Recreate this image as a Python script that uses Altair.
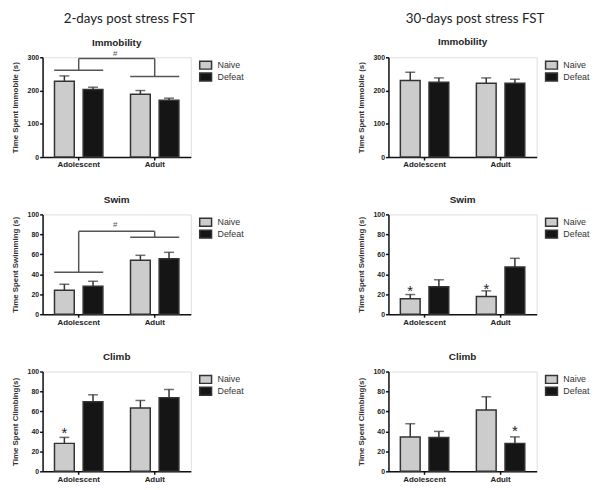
import altair as alt
import pandas as pd

groups = ["Adolescent", "Adult"]
conds = ["Naive", "Defeat"]

# order: Adolescent-Naive, Adolescent-Defeat, Adult-Naive, Adult-Defeat
imm2_mean = [228, 203, 189, 171]
imm2_err = [16, 7, 11, 6]
imm30_mean = [230, 225, 222, 222]
imm30_err = [25, 13, 16, 12]
swim2_mean = [24, 28, 54, 55.5]
swim2_err = [6, 5, 5, 6.5]
swim30_mean = [15.5, 27.6, 17.8, 47.4]
swim30_err = [4.2, 6.9, 5.6, 8.6]
climb2_mean = [28, 69.7, 63.5, 73.7]
climb2_err = [6, 7, 7.5, 8.3]
climb30_mean = [34.5, 33.9, 61.5, 28]
climb30_err = [13.2, 6.1, 13.2, 6.5]

# brackets: [left line, right line, top] and '#' label height
imm2_bracket = [261, 242, 296]
imm2_hash = 311
swim2_bracket = [42, 77, 83]
swim2_hash = 89

# asterisks: (group, condition, y)
swim30_stars = [("Adolescent", "Naive", 25.0), ("Adult", "Naive", 27.5)]
climb2_stars = [("Adolescent", "Naive", 40.5)]
climb30_stars = [("Adult", "Defeat", 42.0)]

FONT = "Liberation Sans"
LINE = "#333333"


def make_df(means, errs):
    rows = []
    i = 0
    for g in groups:
        for c in conds:
            rows.append({"group": g, "cond": c, "mean": means[i], "top": means[i] + errs[i]})
            i += 1
    return pd.DataFrame(rows)


def panel(title, ytitle, means, errs, ymax, step, bracket=None, hashy=None, stars=None,
          toff=6):
    df = make_df(means, errs)
    xaxis = alt.Axis(labelAngle=0, labelFont=FONT, labelFontWeight="bold",
                     labelFontSize=8, labelColor="#222", domainColor="#111",
                     domainWidth=1.5, tickColor="#111", tickWidth=1.5,
                     tickSize=3, labelPadding=1)
    xscale = alt.Scale(paddingInner=0.25, paddingOuter=0.1)
    xoscale = alt.Scale(paddingInner=0.31, paddingOuter=0.15)
    yscale = alt.Scale(domain=[0, ymax], nice=False)
    yaxis = alt.Axis(values=list(range(0, ymax + 1, step)), grid=False, title=ytitle,
                     labelOverlap=False,
                     titleFont=FONT, titleFontSize=8, titleFontWeight="bold",
                     titleColor="#333", titlePadding=8,
                     labelFont=FONT, labelFontSize=7, labelFontWeight="bold",
                     labelColor="#222", domainColor="#111", domainWidth=1.5,
                     tickColor="#111", tickWidth=1.5, tickSize=3, labelPadding=1)

    def X(f="group:N"):
        return alt.X(f, sort=groups, title=None, scale=xscale, axis=xaxis)

    def XO():
        return alt.XOffset("cond:N", sort=conds, scale=xoscale)

    def Y(f):
        return alt.Y(f, scale=yscale, axis=yaxis)

    base = alt.Chart(df)
    bars = base.mark_bar(stroke=LINE, strokeWidth=1.5).encode(
        x=X(), xOffset=XO(), y=Y("mean:Q"),
        color=alt.Color("cond:N", sort=conds,
                        scale=alt.Scale(domain=conds, range=["#cccccc", "#151515"]),
                        legend=alt.Legend(title=None, orient="right", offset=7,
                                          symbolType="M-1.5,-1H1.5V1H-1.5Z",
                                          symbolSize=64, symbolStrokeColor=LINE,
                                          symbolStrokeWidth=1.5, symbolOpacity=1,
                                          labelFont=FONT, labelFontSize=9,
                                          labelColor="#333", rowPadding=-4,
                                          labelOffset=7, padding=3)),
    )
    err = base.mark_rule(color=LINE, strokeWidth=1.5).encode(
        x=X(), xOffset=XO(), y=Y("mean:Q"), y2="top:Q")
    cap = base.mark_tick(color=LINE, thickness=1.5, size=10, orient="horizontal").encode(
        x=X(), xOffset=XO(), y=Y("top:Q"))
    layers = [bars, err, cap]
    if bracket is not None:
        lines = pd.DataFrame({"group": groups, "y": bracket[:2]})
        lay_lines = alt.Chart(lines).mark_bar(
            width={"band": 0.86}, fill="transparent", stroke="#555", strokeWidth=1.5
        ).encode(x=X(), y=Y("y:Q"), y2="y:Q")
        verts = pd.DataFrame({"group": groups, "y": bracket[:2], "y2": [bracket[2]] * 2})
        lay_verts = alt.Chart(verts).mark_rule(color="#555", strokeWidth=1.5).encode(
            x=X(), y=Y("y:Q"), y2="y2:Q")
        topl = pd.DataFrame({"a": [groups[0]], "b": [groups[1]], "y": [bracket[2]]})
        lay_top = alt.Chart(topl).mark_rule(color="#555", strokeWidth=1.5).encode(
            x=X("a:N"), x2="b:N", y=Y("y:Q"))
        hdf = pd.DataFrame({"group": [groups[0]], "y": [hashy], "t": ["#"]})
        lay_hash = alt.Chart(hdf).mark_text(
            dx=37, fontSize=8, font=FONT, color="#555", baseline="middle"
        ).encode(x=X(), y=Y("y:Q"), text="t:N")
        layers += [lay_lines, lay_verts, lay_top, lay_hash]
    if stars:
        sdf = pd.DataFrame({"group": [s[0] for s in stars], "cond": [s[1] for s in stars],
                            "y": [s[2] for s in stars], "t": ["*"] * len(stars)})
        lay_star = alt.Chart(sdf).mark_text(
            fontSize=15, font=FONT, color="#222", baseline="middle", dy=2
        ).encode(x=X(), xOffset=XO(), y=Y("y:Q"), text="t:N")
        layers.append(lay_star)
    return alt.layer(*layers).properties(
        width=150, height=101,
        title=alt.TitleParams(title, font=FONT, fontSize=10, fontWeight="bold",
                              color="#222", offset=toff, anchor="middle"))


left = alt.vconcat(
    panel("Immobility", "Time Spent Immobile (s)", imm2_mean, imm2_err, 300, 100,
          bracket=imm2_bracket, hashy=imm2_hash, toff=2),
    panel("Swim", "Time Spent Swimming (s)", swim2_mean, swim2_err, 100, 20,
          bracket=swim2_bracket, hashy=swim2_hash),
    panel("Climb", "Time Spent Climbing(s)", climb2_mean, climb2_err, 100, 20,
          stars=climb2_stars),
    spacing=24,
    title=alt.TitleParams("2-days post stress FST", font="Lato", fontSize=13.5,
                          fontWeight="normal", color="#222", anchor="middle", offset=12),
).resolve_scale(color="independent")

right = alt.vconcat(
    panel("Immobility", "Time Spent Immobile (s)", imm30_mean, imm30_err, 300, 100),
    panel("Swim", "Time Spent Swimming (s)", swim30_mean, swim30_err, 100, 20,
          stars=swim30_stars),
    panel("Climb", "Time Spent Climbing(s)", climb30_mean, climb30_err, 100, 20,
          stars=climb30_stars),
    spacing=24,
    title=alt.TitleParams("30-days post stress FST", font="Lato", fontSize=13.5,
                          fontWeight="normal", color="#222", anchor="middle", offset=12),
).resolve_scale(color="independent")

chart = alt.hconcat(left, right, spacing=109).resolve_scale(color="independent").properties(
    padding={"left": 2, "top": 1, "right": 0, "bottom": 0}
).configure_view(stroke=None).configure(background="white")

chart.save("out.html", embed_options={"renderer": "svg", "actions": False})
